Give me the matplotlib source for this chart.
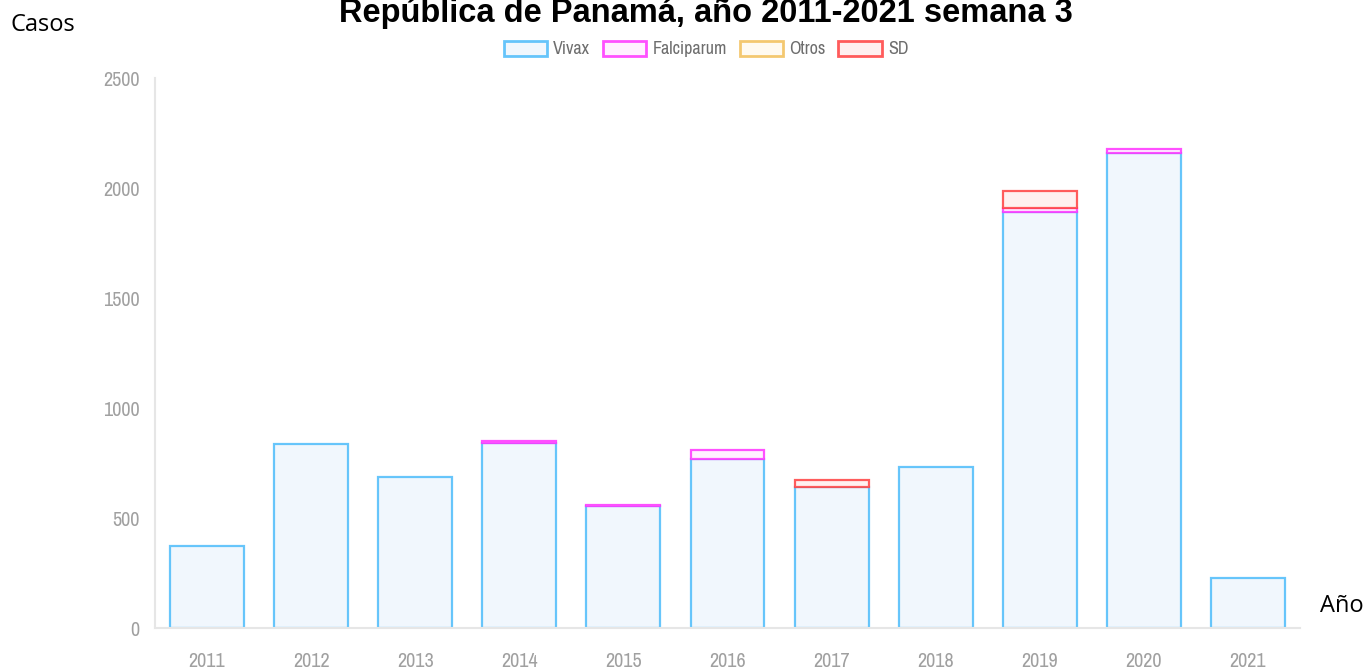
import matplotlib
matplotlib.use("Agg")
import matplotlib.pyplot as plt
from matplotlib.patches import Patch
from matplotlib import font_manager
import numpy as np

years = ["2011", "2012", "2013", "2014", "2015", "2016", "2017", "2018", "2019", "2020", "2021"]
vivax = [371, 836, 686, 841, 553, 768, 641, 732, 1891, 2159, 227]
falciparum = [0, 0, 0, 10, 6, 41, 0, 0, 18, 18, 0]
otros = [0, 0, 0, 0, 0, 0, 0, 0, 0, 0, 0]
sd = [0, 0, 0, 0, 0, 0, 33, 0, 77, 0, 0]

series = [
    ("Vivax", vivax, "#F1F7FD", (0.21, 0.70, 0.98, 0.75)),
    ("Falciparum", falciparum, "#FFF0FF", (1.0, 0.2, 1.0, 0.85)),
    ("Otros", otros, "#FFFAF0", (0.95, 0.75, 0.35, 0.85)),
    ("SD", sd, "#FFF0F0", (1.0, 0.25, 0.25, 0.85)),
]

# pick a condensed font if one is installed
narrow = None
for f in font_manager.fontManager.ttflist:
    if ("Narrow" in f.name or "Condensed" in f.name) and narrow is None:
        narrow = f.name
tick_font = ([narrow] if narrow else []) + ["Liberation Sans", "DejaVu Sans"]
tick_size = 14.5 if narrow else 12

fig = plt.figure(figsize=(13.71, 6.69), dpi=100)
ax = fig.add_axes([155/1371, 41/669, (1300-155)/1371, (628-78)/669])

x = np.arange(len(years))
bottom = np.zeros(len(years))
for name, vals, fc, ec in series:
    v = np.array(vals, dtype=float)
    m = v > 0
    ax.bar(x[m], v[m], bottom=bottom[m], width=0.71, color=fc, edgecolor=ec, linewidth=1.6, label=name)
    bottom += v

ax.set_xlim(-0.5, 10.5)
ax.set_ylim(0, 2500)
ax.set_yticks([0, 500, 1000, 1500, 2000, 2500])
ax.set_xticks(x)
ax.set_xticklabels(years)
for lab in ax.get_xticklabels() + ax.get_yticklabels():
    lab.set_family(tick_font)
    lab.set_fontsize(tick_size)
    lab.set_color("#a0a0a0")
ax.tick_params(axis="both", length=0)
ax.tick_params(axis="x", pad=17)
ax.tick_params(axis="y", pad=11)
for s in ["top", "right"]:
    ax.spines[s].set_visible(False)
for s in ["left", "bottom"]:
    ax.spines[s].set_color("#e6e6e6")
    ax.spines[s].set_linewidth(1.5)

fig.text(706/1371, 1 - 22/669, "República de Panamá, año 2011-2021 semana 3",
         ha="center", va="baseline", fontsize=23.5, fontweight="bold",
         family=["Liberation Sans", "DejaVu Sans"])
fig.text(10/1371, 1 - 25/669, "Casos", ha="left", va="center", fontsize=17,
         family=["Open Sans", "DejaVu Sans"])
fig.text(1320/1371, 1 - 606/669, "Año", ha="left", va="center", fontsize=17,
         family=["Open Sans", "DejaVu Sans"])

handles = [Patch(facecolor=fc, edgecolor=ec, linewidth=2, label=name) for name, _, fc, ec in series]
leg = fig.legend(handles=handles, loc="center", bbox_to_anchor=(706/1371, 1 - 49/669), ncol=4,
                 frameon=False, handlelength=2.4, handleheight=0.9, handletextpad=0.35,
                 columnspacing=0.7, prop={"family": tick_font, "size": 13 if narrow else 11})
for t in leg.get_texts():
    t.set_color("#6e6e6e")

fig.savefig("out.png", dpi=100)
